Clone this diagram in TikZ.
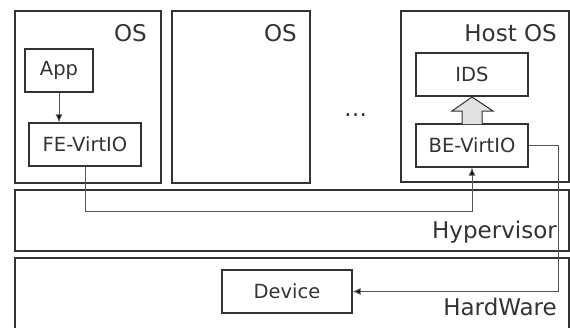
\documentclass[tikz,border=0pt]{standalone}
\usepackage{fontspec}
\setmainfont{DejaVu Sans}
\usetikzlibrary{arrows.meta}
\definecolor{ink}{HTML}{333333}
\definecolor{wire}{HTML}{555555}
\definecolor{blockfill}{HTML}{E2E2E2}
\tikzset{
  bigbox/.style={draw=ink, line width=1.6pt, rectangle, inner sep=0pt},
  innerbox/.style={draw=ink, line width=1.2pt, rectangle, inner sep=0pt, text=ink,
    font=\fontsize{19.5}{19.5}\selectfont, minimum height=43pt},
  biglabel/.style={anchor=base east, inner sep=0pt, text=ink, font=\fontsize{23}{23}\selectfont},
  conn/.style={draw=wire, line width=0.9pt},
  tip/.style={-{Latex[length=8pt,width=7pt,fill=black]}}
}
\begin{document}
\begin{tikzpicture}[x=1pt,y=-1pt]
\useasboundingbox (0,0) rectangle (570,327);
\fill[white] (0,0) rectangle (570,327);

% big boxes
\node[bigbox, minimum width=146pt, minimum height=172pt] (os1) at (88,97) {};
\node[bigbox, minimum width=138pt, minimum height=172pt] (os2) at (241,97) {};
\node[bigbox, minimum width=168pt, minimum height=171pt] (host) at (485,96.5) {};
\node[bigbox, minimum width=554pt, minimum height=61pt] (hyp) at (292,220.5) {};
\begin{scope}
\clip (0,0) rectangle (570,327);
\node[bigbox, minimum width=554pt, minimum height=87pt] (hw) at (292,301.5) {};
\end{scope}

% labels
\node[biglabel] (l1) at (147,41) {OS};
\node[biglabel] (l2) at (297,41) {OS};
\node[biglabel] (l3) at (557,41) {Host OS};
\node[biglabel] (l4) at (557,238) {Hypervisor};
\node[biglabel] (l5) at (557,315) {HardWare};
\node[anchor=base, inner sep=0pt, text=ink, font=\fontsize{23}{23}\selectfont] (dots) at (355.5,116) {…};

% inner boxes
\node[innerbox, minimum width=68pt] (app) at (59,70.5) {App};
\node[innerbox, minimum width=112pt] (fe) at (85,144.5) {FE-VirtIO};
\node[innerbox, minimum width=112pt] (ids) at (472,74.5) {IDS};
\node[innerbox, minimum width=112pt] (be) at (472,145.5) {BE-VirtIO};
\node[innerbox, minimum width=130pt] (dev) at (287,291.5) {Device};

% block arrow BE -> IDS
\draw[draw=ink, line width=1pt, fill=blockfill, line join=miter]
  (462,124) -- (462,111) -- (452,111) -- (472,97) -- (493,111) -- (482,111) -- (482,124);

% connectors
\coordinate (jA) at (472,211);
\coordinate (jB) at (558,145.5);
\draw[conn, tip] (app.south) -- (app.south |- fe.north);
\draw[conn, tip] (fe.south) |- (jA) -- (be.south);
\draw[conn, tip] (be.east) -- (jB) |- (dev.east);
\end{tikzpicture}
\end{document}
